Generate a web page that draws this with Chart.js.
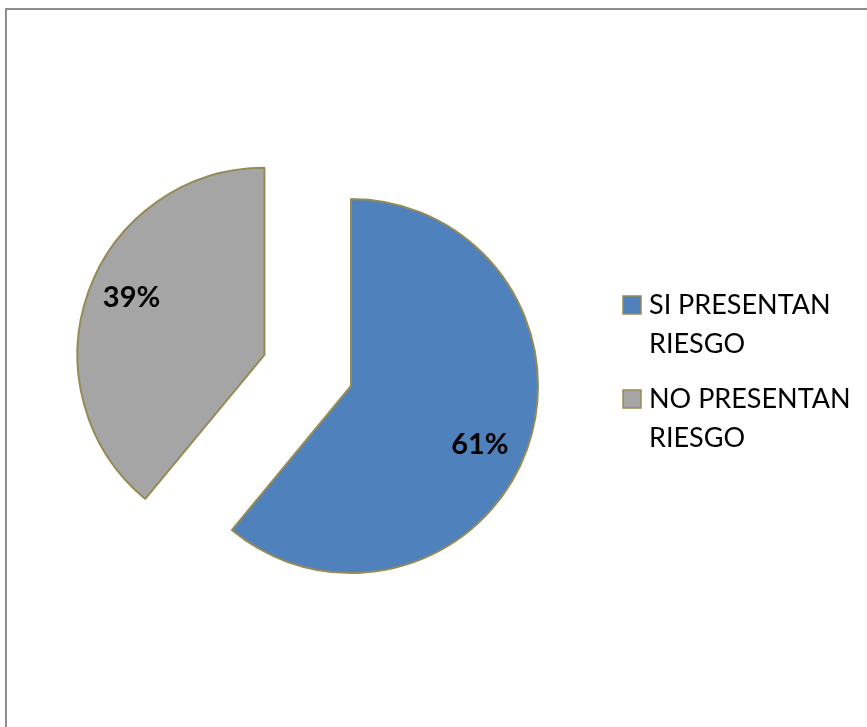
<!DOCTYPE html>
<html>
<head>
<meta charset="utf-8">
<title>Riesgo</title>
<script src="https://cdn.jsdelivr.net/npm/chart.js@4.4.0/dist/chart.umd.min.js"></script>
<style>
  html, body { margin: 0; padding: 0; background: #fff; overflow: hidden; }
  #marco {
    position: absolute; left: 5px; top: 8px;
    width: 900px; height: 800px;
    border: 2px solid #8e8e8e;
  }
  #grafico { position: absolute; left: 0; top: 0; }
</style>
</head>
<body>
<div id="marco"></div>
<canvas id="grafico" width="867" height="727"></canvas>
<script>
// Datos
const categorias = ["SI PRESENTAN RIESGO", "NO PRESENTAN RIESGO"];
const porcentajes = [61, 39];
const colores = ["#4F81BD", "#A5A5A5"];

const BORDE = "#958B56";
const FUENTE = "Lato, 'Open Sans', sans-serif";

// Desplaza las porciones hacia afuera (pastel separado)
const separarPorcion = {
  id: "separarPorcion",
  afterDatasetUpdate(chart, args, opts) {
    const meta = chart.getDatasetMeta(args.index);
    meta.data.forEach((arc, i) => {
      const d = opts.distancias[i] || 0;
      if (!d) return;
      const mitad = (arc.startAngle + arc.endAngle) / 2;
      arc.x += Math.cos(mitad) * d;
      arc.y += Math.sin(mitad) * d;
    });
  },
};

// Porcentajes dentro de cada porción
const etiquetas = {
  id: "etiquetas",
  afterDatasetsDraw(chart) {
    const ctx = chart.ctx;
    const meta = chart.getDatasetMeta(0);
    ctx.save();
    ctx.font = "bold 29px " + FUENTE;
    ctx.fillStyle = "#000";
    ctx.textAlign = "center";
    ctx.textBaseline = "middle";
    meta.data.forEach((arc, i) => {
      const mitad = (arc.startAngle + arc.endAngle) / 2 + 0.07;
      const r = arc.outerRadius * 0.765;
      ctx.fillText(porcentajes[i] + "%", arc.x + Math.cos(mitad) * r - 2, arc.y + Math.sin(mitad) * r + 1);
    });
    ctx.restore();
  },
};

// Leyenda a la derecha, con el texto partido en dos líneas
const leyenda = {
  id: "leyenda",
  afterDraw(chart) {
    const ctx = chart.ctx;
    const x = 623, y0 = 314, linea = 39, bloque = 94;
    ctx.save();
    ctx.font = "27px " + FUENTE;
    ctx.textBaseline = "alphabetic";
    chart.data.labels.forEach((txt, i) => {
      const y = y0 + i * bloque;
      ctx.fillStyle = colores[i];
      ctx.fillRect(x, y - 18, 18, 18);
      ctx.strokeStyle = BORDE;
      ctx.lineWidth = 1.5;
      ctx.strokeRect(x, y - 18, 18, 18);
      const corte = txt.lastIndexOf(" ");
      const lineas = [txt.slice(0, corte), txt.slice(corte + 1)];
      ctx.fillStyle = "#000";
      lineas.forEach((l, j) => ctx.fillText(l, x + 26, y + j * linea));
    });
    ctx.restore();
  },
};

new Chart(document.getElementById("grafico"), {
  type: "pie",
  data: {
    labels: categorias,
    datasets: [
      {
        data: porcentajes,
        backgroundColor: colores,
        borderColor: BORDE,
        borderWidth: 2,
      },
    ],
  },
  options: {
    responsive: false,
    animation: false,
    events: [],
    radius: 187,
    layout: { padding: { left: 0, right: 165, top: 45, bottom: 0 } },
    plugins: {
      legend: { display: false },
      tooltip: { enabled: false },
      separarPorcion: { distancias: [0, 92] },
    },
  },
  plugins: [separarPorcion, etiquetas, leyenda],
});
</script>
</body>
</html>
